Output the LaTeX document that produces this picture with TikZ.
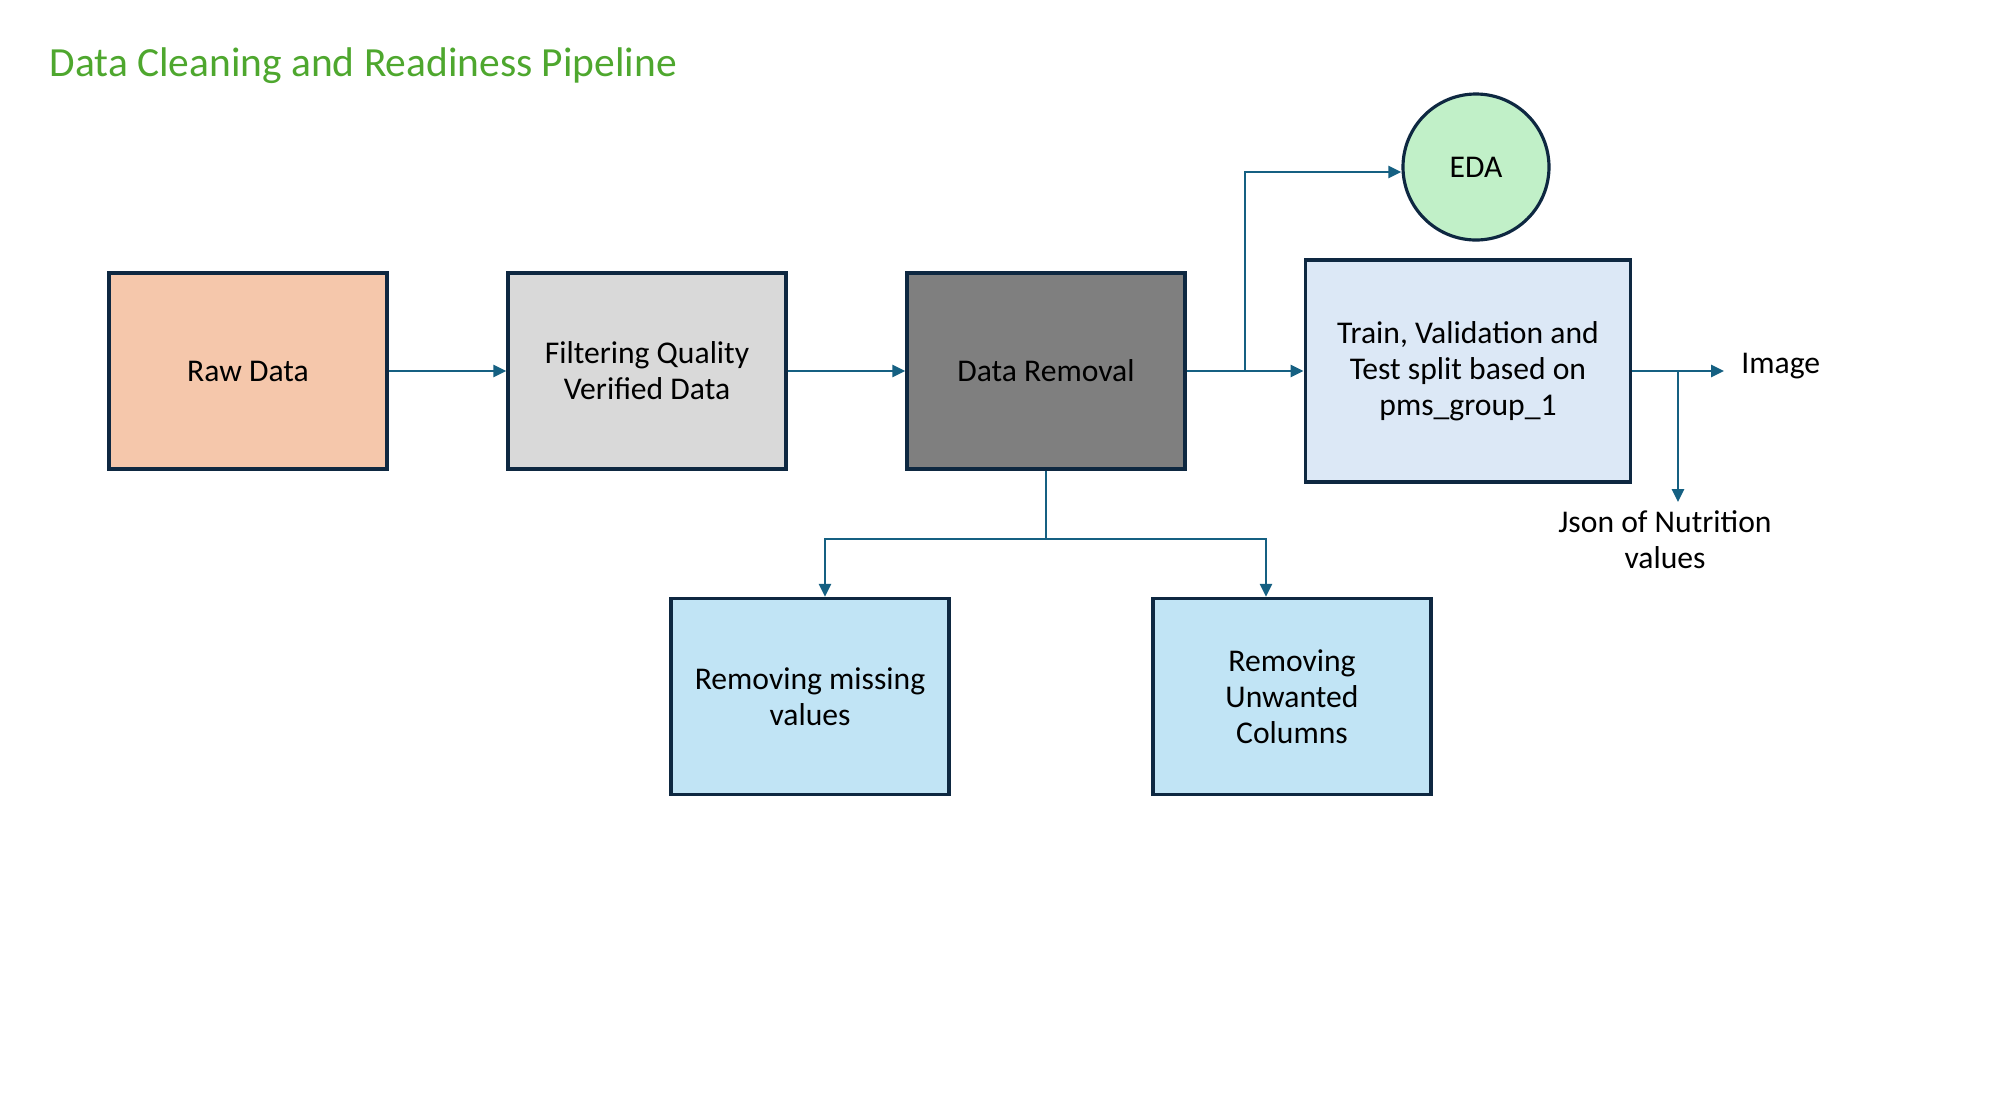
\documentclass[tikz,border=0pt]{standalone}
\usepackage{fontspec}
\setmainfont{Carlito}
\usetikzlibrary{arrows.meta,positioning}
\definecolor{edge}{HTML}{0E2841}
\definecolor{link}{HTML}{156082}
\definecolor{titlegreen}{HTML}{4EA72E}
\definecolor{peach}{HTML}{F5C7AB}
\definecolor{lightgray}{HTML}{D9D9D9}
\definecolor{midgray}{HTML}{7F7F7F}
\definecolor{paleblue}{HTML}{DCE8F6}
\definecolor{skyblue}{HTML}{C1E4F5}
\definecolor{mint}{HTML}{C1F0C8}
\tikzset{
  box/.style={draw=edge, line width=0.9pt, align=center, minimum width=2.78cm, minimum height=1.96cm, font=\fontsize{9}{10.2}\selectfont},
  conn/.style={draw=link, line width=0.75pt, -{Triangle[length=1.3mm,width=1.2mm]}},
  plain/.style={draw=link, line width=0.75pt},
  label/.style={align=center, font=\fontsize{9}{10.2}\selectfont}
}
\begin{document}
\begin{tikzpicture}
\useasboundingbox (0,0) rectangle (20.02,-11.02);
\node[anchor=west, text=titlegreen, font=\fontsize{11.8}{13}\selectfont, inner sep=0pt] (title) at (0.49,-0.66) {Data Cleaning and Readiness Pipeline};
\node[box, fill=peach] (raw) at (2.48,-3.71) {Raw Data};
\node[box, fill=lightgray] (filter) at (6.47,-3.71) {Filtering Quality\\Verified Data};
\node[box, fill=midgray] (removal) at (10.46,-3.71) {Data Removal};
\node[box, fill=paleblue, minimum width=3.255cm, minimum height=2.22cm] (split) at (14.68,-3.71) {Train, Validation and\\Test split based on\\pms\_group\_1};
\node[circle, draw=edge, line width=0.9pt, fill=mint, minimum size=1.46cm, font=\fontsize{9}{10.2}\selectfont] (eda) at (14.76,-1.67) {EDA};
\node[box, fill=skyblue] (missing) at (8.10,-6.965) {Removing missing\\values};
\node[box, fill=skyblue] (unwanted) at (12.92,-6.965) {Removing\\Unwanted\\Columns};
\node[label, anchor=west] (image) at (17.29,-3.66) {Image};
\node[label] (json) at (16.65,-5.40) {Json of Nutrition\\values};
\coordinate (tap) at (12.45,-3.71);
\coordinate (fork) at (10.46,-5.39);
\coordinate (imgend) at (17.24,-3.71);
\coordinate (jsontap) at (16.78,-3.71);
% main flow
\draw[conn] (raw) -- (filter);
\draw[conn] (filter) -- (removal);
\draw[conn] (removal) -- (split);
\draw[conn] (tap) |- ([yshift=-0.05cm]eda.west);
% removal steps
\draw[plain] (removal) -- (fork);
\draw[conn] (fork) -| ([xshift=0.15cm]missing.north);
\draw[conn] (fork) -| ([xshift=-0.26cm]unwanted.north);
% outputs
\draw[conn] (split) -- (imgend);
\draw[conn] (jsontap) -- (16.78,-5.02);
\end{tikzpicture}
\end{document}
